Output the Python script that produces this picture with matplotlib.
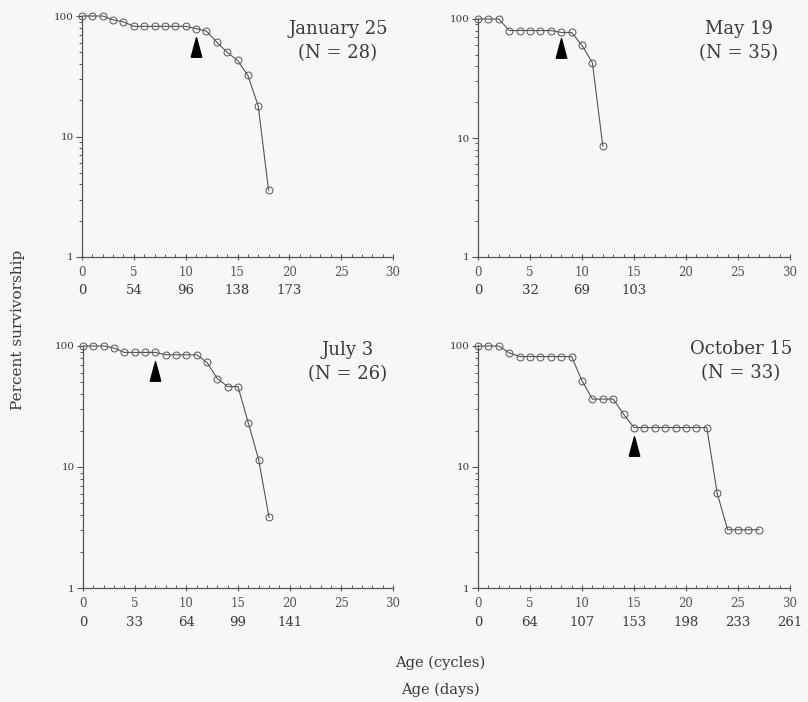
import matplotlib
matplotlib.use("Agg")
import matplotlib.pyplot as plt
from matplotlib.transforms import blended_transform_factory, ScaledTranslation

# ---------------- data ----------------
jan_cycles = list(range(0, 19))
jan_surv = [100, 100, 100, 92.9, 89.3, 82.1, 82.1, 82.1, 82.1, 82.1, 82.1,
            78.6, 75.0, 60.7, 50.0, 42.9, 32.1, 17.9, 3.57]

may_cycles = list(range(0, 13))
may_surv = [100, 100, 100, 80.0, 80.0, 80.0, 80.0, 80.0, 77.1, 77.1, 60.0,
            42.9, 8.57]

jul_cycles = list(range(0, 19))
jul_surv = [100, 100, 100, 96.2, 88.5, 88.5, 88.5, 88.5, 84.6, 84.6, 84.6,
            84.6, 73.1, 53.8, 46.2, 46.2, 23.1, 11.5, 3.85]

oct_cycles = list(range(0, 28))
oct_surv = [100, 100, 100, 87.9, 81.8, 81.8, 81.8, 81.8, 81.8, 81.8, 51.5,
            36.4, 36.4, 36.4, 27.3, 21.2, 21.2, 21.2, 21.2, 21.2, 21.2, 21.2,
            21.2, 6.06, 3.03, 3.03, 3.03, 3.03]

titles = ["January 25", "May 19", "July 3", "October 15"]
sample_sizes = [28, 35, 26, 33]

# arrow markers (cycle, survivorship at arrow centre)
arrow_x = [11, 8, 7, 15]
arrow_y = [55.6, 56.7, 62.3, 14.9]

cycle_ticks = [0, 5, 10, 15, 20, 25, 30]
jan_days = ["0", "54", "96", "138", "173"]
may_days = ["0", "32", "69", "103"]
jul_days = ["0", "33", "64", "99", "141"]
oct_days = ["0", "64", "107", "153", "198", "233", "261"]

# ---------------- figure ----------------
W, H = 808, 702
bg = "#f8f7f7"
ink = "#3a3a3a"
fig = plt.figure(figsize=(W / 100, H / 100), dpi=100, facecolor=bg)
serif = ["DejaVu Serif"]

# axes boxes in pixels: left, right, top, bottom
boxes = [(82, 393, 16, 257), (478, 790, 19, 257),
         (83, 393, 346, 588), (478, 790, 346, 588)]
label_pos = [(338, 41), (739, 41), (348, 362), (741, 361)]

series = [(jan_cycles, jan_surv, jan_days), (may_cycles, may_surv, may_days),
          (jul_cycles, jul_surv, jul_days), (oct_cycles, oct_surv, oct_days)]

tri = [(-0.27, -0.5), (0.27, -0.5), (0.0, 0.5), (-0.27, -0.5)]

for i, ((l, r, t, b), (xs, ys, days)) in enumerate(zip(boxes, series)):
    ax = fig.add_axes([l / W, 1 - b / H, (r - l) / W, (b - t) / H])
    ax.set_facecolor("none")
    ax.set_yscale("log")
    ax.set_xlim(0, 30)
    ax.set_ylim(1, 100)
    ax.plot(xs, ys, color="#555555", lw=0.8, marker="o", ms=5,
            mfc="none", mec="#555555", mew=0.7, clip_on=False, zorder=3)
    ax.plot([arrow_x[i]], [arrow_y[i]], marker=tri, ms=14, color="black",
            ls="none", zorder=4)
    for s in ["top", "right"]:
        ax.spines[s].set_visible(False)
    for s in ["left", "bottom"]:
        ax.spines[s].set_color("#555555")
        ax.spines[s].set_linewidth(0.9)
    ax.set_yticks([1, 10, 100])
    ax.set_yticklabels(["1", "10", "100"], fontsize=7.5, color=ink,
                       family=serif)
    ax.tick_params(axis="y", which="major", direction="out", length=4,
                   width=0.8, color="#555555", pad=2)
    ax.tick_params(axis="y", which="minor", direction="out", length=2.5,
                   width=0.7, color="#555555", labelleft=False)
    ax.set_xticks(cycle_ticks)
    ax.set_xticklabels([str(c) for c in cycle_ticks], fontsize=8.5,
                       color="#555555", family=serif)
    ax.set_xticks(range(0, 31), minor=True)
    ax.tick_params(axis="x", which="major", direction="inout", length=5,
                   width=0.8, color="#555555", pad=4)
    ax.tick_params(axis="x", which="minor", direction="in", length=2.5,
                   width=0.7, color="#555555")
    # day labels
    off = 33 if i < 2 else 35
    trans = blended_transform_factory(ax.transData, ax.transAxes) + \
        ScaledTranslation(0, -off / 100, fig.dpi_scale_trans)
    for c, d in zip(cycle_ticks, days):
        ax.text(c, 0, d, transform=trans, ha="center", va="center",
                fontsize=9.5, color=ink, family=serif)
    lx, ly = label_pos[i]
    fig.text(lx / W, 1 - ly / H, f"{titles[i]}\n(N = {sample_sizes[i]})",
             ha="center", va="center", multialignment="center",
             fontsize=13, color=ink, family=serif, linespacing=1.4)

fig.text(18 / W, 1 - 330 / H, "Percent survivorship", rotation=90,
         ha="center", va="center", fontsize=11, color=ink, family=serif)
fig.text(440 / W, 1 - 663 / H, "Age (cycles)", ha="center", va="center",
         fontsize=10.5, color=ink, family=serif)
fig.text(440 / W, 1 - 690 / H, "Age (days)", ha="center", va="center",
         fontsize=10.5, color=ink, family=serif)

fig.savefig("out.png", dpi=100, facecolor=bg)
